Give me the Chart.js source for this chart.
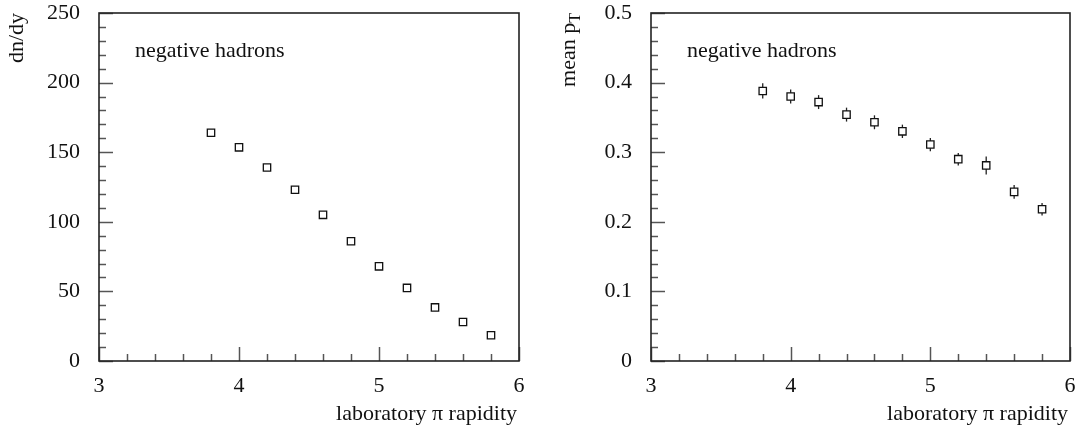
<!DOCTYPE html>
<html>
<head>
<meta charset="utf-8">
<script src="https://cdn.jsdelivr.net/npm/chart.js@4"></script>
<style>
  body { margin: 0; background: #fff; }
  .panel { position: absolute; top: 0; }
</style>
</head>
<body>
<div class="panel" style="left:0"><canvas id="dndyChart" width="540" height="429"></canvas></div>
<div class="panel" style="left:540px"><canvas id="ptChart" width="539" height="429"></canvas></div>
<script>
// data
const rapidity = [3.8, 4.0, 4.2, 4.4, 4.6, 4.8, 5.0, 5.2, 5.4, 5.6, 5.8];
const dndy = [164, 153.5, 139, 123, 105, 86, 68, 52.5, 38.5, 28, 18.5];
const meanPt = [0.388, 0.380, 0.372, 0.354, 0.343, 0.330, 0.311, 0.290, 0.281, 0.243, 0.218];
const meanPtErr = [0.011, 0.010, 0.010, 0.010, 0.010, 0.0096, 0.0095, 0.009, 0.013, 0.0098, 0.009];
const xTickLabels = [3, 4, 5, 6];

const serif = "'Liberation Serif', 'Times New Roman', serif";

// vertical error bars, drawn under the square markers
const errorBars = {
    id: 'errorBars',
    beforeDatasetsDraw(chart, args, opts) {
        if (!opts.err) return;
        const ctx = chart.ctx;
        const y = chart.scales.y;
        const meta = chart.getDatasetMeta(0);
        ctx.save();
        ctx.strokeStyle = '#222';
        ctx.lineWidth = 1.3;
        meta.data.forEach(function(pt, i) {
            const v = chart.data.datasets[0].data[i].y;
            ctx.beginPath();
            ctx.moveTo(pt.x, y.getPixelForValue(v + opts.err[i]));
            ctx.lineTo(pt.x, y.getPixelForValue(v - opts.err[i]));
            ctx.stroke();
        });
        ctx.restore();
    }
};

// frame, inward ticks and the texts
const frame = {
    id: 'frame',
    afterDraw(chart, args, opts) {
        const ctx = chart.ctx;
        const a = chart.chartArea;
        const x = chart.scales.x, y = chart.scales.y;
        ctx.save();
        ctx.strokeStyle = '#555';
        ctx.lineWidth = 1.5;
        const nx = Math.round((x.max - x.min) / opts.xMinor);
        for (let i = 0; i <= nx; i++) {
            const v = x.min + i * opts.xMinor;
            const px = Math.round(x.getPixelForValue(v)) + 0.5;
            const len = (i % opts.xSub === 0) ? 14 : 7;
            ctx.beginPath();
            ctx.moveTo(px, a.bottom);
            ctx.lineTo(px, a.bottom - len);
            ctx.stroke();
        }
        const ny = Math.round((y.max - y.min) / opts.yMinor);
        for (let i = 0; i <= ny; i++) {
            const v = y.min + i * opts.yMinor;
            const py = Math.round(y.getPixelForValue(v)) + 0.5;
            const len = (i % opts.ySub === 0) ? 14 : 7;
            ctx.beginPath();
            ctx.moveTo(a.left, py);
            ctx.lineTo(a.left + len, py);
            ctx.stroke();
        }
        ctx.strokeStyle = '#222';
        ctx.lineWidth = 1.6;
        ctx.strokeRect(a.left, a.top, a.right - a.left, a.bottom - a.top);

        ctx.fillStyle = '#111';
        ctx.font = '22px ' + serif;
        ctx.textBaseline = 'alphabetic';
        ctx.textAlign = 'left';
        ctx.fillText('negative hadrons', a.left + 36, a.top + 44);

        ctx.textAlign = 'right';
        ctx.fillText('laboratory \u03c0 rapidity', a.right - 2, a.bottom + 59);

        // rotated y title, end aligned with the top of the frame
        ctx.translate(a.left - 76, a.top);
        ctx.rotate(-Math.PI / 2);
        let subW = 0;
        if (opts.sub) {
            ctx.font = '16px ' + serif;
            subW = ctx.measureText(opts.sub).width;
            ctx.textAlign = 'left';
            ctx.fillText(opts.sub, -subW, 5);
        }
        ctx.font = '22px ' + serif;
        ctx.textAlign = 'right';
        ctx.fillText(opts.yTitle, -subW, 0);
        ctx.restore();
    }
};

// keep the plot box where the layout padding puts it
function noLabelPadding(s) {
    s.paddingTop = 0;
    s.paddingBottom = 0;
    s.paddingLeft = 0;
    s.paddingRight = 0;
}

function makeChart(id, values, yMax, yStep, yAxisWidth, padRight, frameOpts, errOpts) {
    return new Chart(document.getElementById(id), {
        type: 'scatter',
        data: {
            datasets: [{
                data: rapidity.map(function(r, i) { return { x: r, y: values[i] }; }),
                pointStyle: 'rect',
                pointRadius: 5.2,
                pointHoverRadius: 5.2,
                borderColor: '#111',
                backgroundColor: '#fff',
                borderWidth: 1.3
            }]
        },
        options: {
            responsive: false,
            animation: false,
            events: [],
            layout: { padding: { top: 13, right: padRight, left: 0, bottom: 0 } },
            plugins: {
                legend: { display: false },
                tooltip: { enabled: false },
                frame: frameOpts,
                errorBars: errOpts
            },
            scales: {
                x: {
                    type: 'linear',
                    min: 3, max: 6,
                    afterBuildTicks: function(s) { s.ticks = xTickLabels.map(function(v) { return { value: v }; }); },
                    afterFit: function(s) { s.height = 68; noLabelPadding(s); },
                    grid: { display: false, drawTicks: false },
                    border: { display: false },
                    ticks: { padding: 12, color: '#111', font: { family: serif, size: 22 }, maxRotation: 0 }
                },
                y: {
                    min: 0, max: yMax,
                    afterFit: function(s) { s.width = yAxisWidth; noLabelPadding(s); },
                    grid: { display: false, drawTicks: false },
                    border: { display: false },
                    ticks: { stepSize: yStep, padding: 19, color: '#111', font: { family: serif, size: 22 } }
                }
            }
        },
        plugins: [errorBars, frame]
    });
}

makeChart('dndyChart', dndy, 250, 50, 99, 21,
    { xMinor: 0.2, xSub: 5, yMinor: 10, ySub: 5, yTitle: 'dn/dy' },
    {});
makeChart('ptChart', meanPt, 0.5, 0.1, 111, 9,
    { xMinor: 0.2, xSub: 5, yMinor: 0.02, ySub: 5, yTitle: 'mean p', sub: 'T' },
    { err: meanPtErr });
</script>
</body>
</html>
